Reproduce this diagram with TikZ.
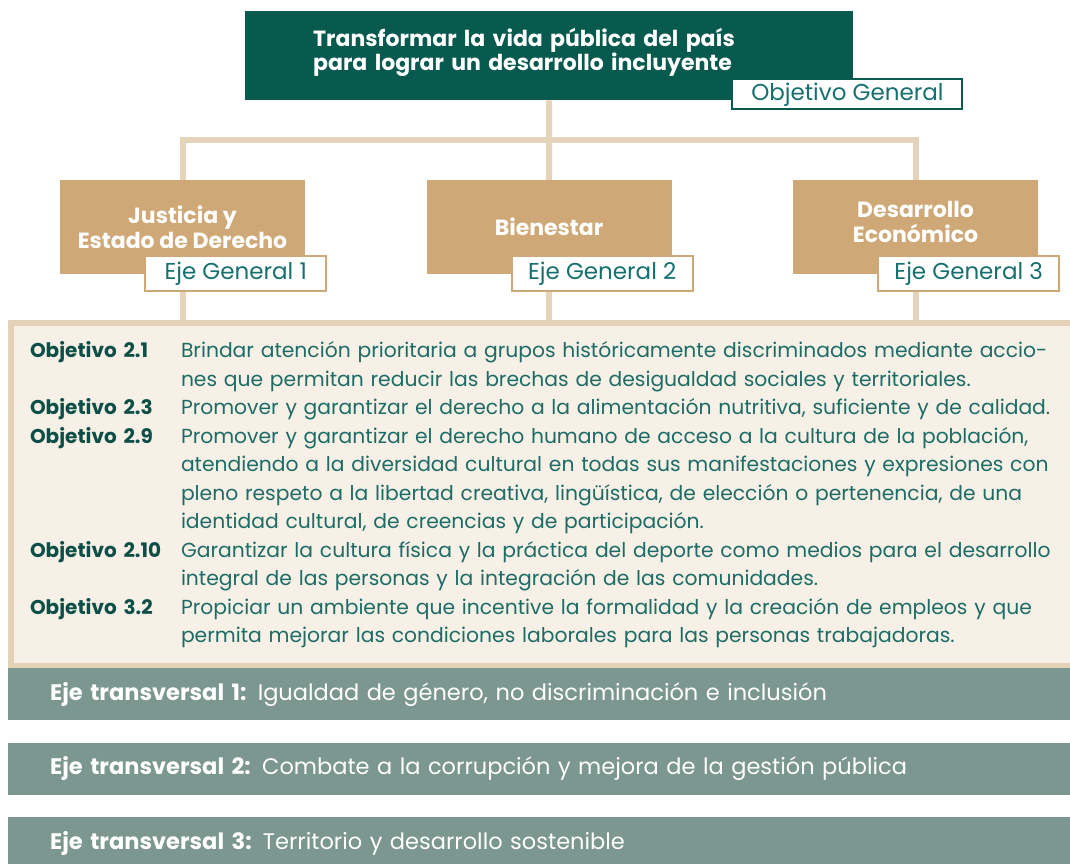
\documentclass[tikz,border=0pt]{standalone}
\usepackage{fontspec}
\setmainfont{Poppins}
\usetikzlibrary{positioning}
\usetikzlibrary{backgrounds}
\definecolor{dkgreen}{RGB}{7,90,77}
\definecolor{tan}{RGB}{207,168,119}
\definecolor{sand}{RGB}{229,212,185}
\definecolor{cream}{RGB}{246,240,230}
\definecolor{sandborder}{RGB}{227,210,183}
\definecolor{sage}{RGB}{123,151,143}
\definecolor{labelgreen}{RGB}{13,79,71}
\definecolor{teal}{RGB}{29,108,102}
\definecolor{tagteal}{RGB}{22,112,110}
\newcommand{\objlabel}[1]{\makebox[151pt][l]{\textcolor{labelgreen}{\fontsize{20}{28.5}\selectfont\bfseries #1}}}

\begin{document}
\begin{tikzpicture}[x=1pt,y=-1pt,
  topbox/.style={fill=dkgreen, text=white, font=\fontsize{22}{24.5}\selectfont\bfseries,
    minimum width=608, minimum height=89, text width=472, inner xsep=68, align=left,
    text depth=37pt},
  ejebox/.style={fill=tan, text=white, font=\fontsize{22}{25}\selectfont\bfseries,
    minimum width=245, minimum height=94, align=center},
  tag/.style={draw=tan, line width=2pt, fill=white, text=tagteal,
    font=\fontsize{23}{24}\selectfont, minimum width=181, minimum height=35, inner sep=0pt},
  objbox/.style={draw=sandborder, line width=6pt, fill=cream, text=teal,
    font=\fontsize{20.3}{28.5}\selectfont, text width=1024, inner xsep=19, inner ysep=0,
    minimum height=343, align=left},
  transbar/.style={fill=sage, text=white, font=\fontsize{22.5}{24}\selectfont,
    text width=978, inner xsep=42, minimum height=52, align=left},
  conn/.style={draw=sand, line width=6pt}]
\useasboundingbox (0,0) rectangle (1070,863);

% objetivo general
\node[topbox, anchor=north west] (obj) at (245,11) {Transformar la vida pública del país\\para lograr un desarrollo incluyente};
\node[tag, draw=dkgreen, minimum width=230, minimum height=30, anchor=south east]
  (objtag) at ([shift={(110,10)}]obj.south east) {Objetivo General};

% ejes generales
\node[ejebox] (jus) at (182.5,227) {Justicia y\\Estado de Derecho};
\node[ejebox] (bie) at (549,227) {Bienestar};
\node[ejebox, text depth=11pt] (eco) at (915.5,227) {Desarrollo\\Económico};
\node[tag, anchor=south east] (tag1) at ([shift={(22,18)}]jus.south east) {Eje General 1};
\node[tag, anchor=south east] (tag2) at ([shift={(22,18)}]bie.south east) {Eje General 2};
\node[tag, anchor=south east] (tag3) at ([shift={(22,18)}]eco.south east) {Eje General 3};

% objetivos
\node[objbox, anchor=north west] (objs) at (8,320) {%
\begin{tabular}{@{}l@{}l@{}}
\objlabel{Objetivo 2.1} & Brindar atención prioritaria a grupos históricamente discriminados mediante accio-\\
 & nes que permitan reducir las brechas de desigualdad sociales y territoriales.\\
\objlabel{Objetivo 2.3} & Promover y garantizar el derecho a la alimentación nutritiva, suficiente y de calidad.\\
\objlabel{Objetivo 2.9} & Promover y garantizar el derecho humano de acceso a la cultura de la población,\\
 & atendiendo a la diversidad cultural en todas sus manifestaciones y expresiones con\\
 & pleno respeto a la libertad creativa, lingüística, de elección o pertenencia, de una\\
 & identidad cultural, de creencias y de participación.\\
\objlabel{Objetivo 2.10} & Garantizar la cultura física y la práctica del deporte como medios para el desarrollo\\
 & integral de las personas y la integración de las comunidades.\\
\objlabel{Objetivo 3.2} & Propiciar un ambiente que incentive la formalidad y la creación de empleos y que\\
 & permita mejorar las condiciones laborales para las personas trabajadoras.
\end{tabular}};

% ejes transversales
\node[transbar, anchor=north west] (tr1) at (8,668) {\textbf{Eje transversal 1:} Igualdad de género, no discriminación e inclusión};
\node[transbar, below=22pt of tr1] (tr2) {\textbf{Eje transversal 2:} Combate a la corrupción y mejora de la gestión pública};
\node[transbar, below=22pt of tr2] (tr3) {\textbf{Eje transversal 3:} Territorio y desarrollo sostenible};

% conectores
\begin{scope}[on background layer]
\coordinate (bar) at (549,140);
\draw[conn] (obj.south) -- (bie.north);
\draw[conn] (jus.north) |- (bar) -| (eco.north);
\draw[conn] (jus.south) -- (jus.south |- objs.north);
\draw[conn] (bie.south) -- (bie.south |- objs.north);
\draw[conn] (eco.south) -- (eco.south |- objs.north);
\end{scope}
\end{tikzpicture}
\end{document}
